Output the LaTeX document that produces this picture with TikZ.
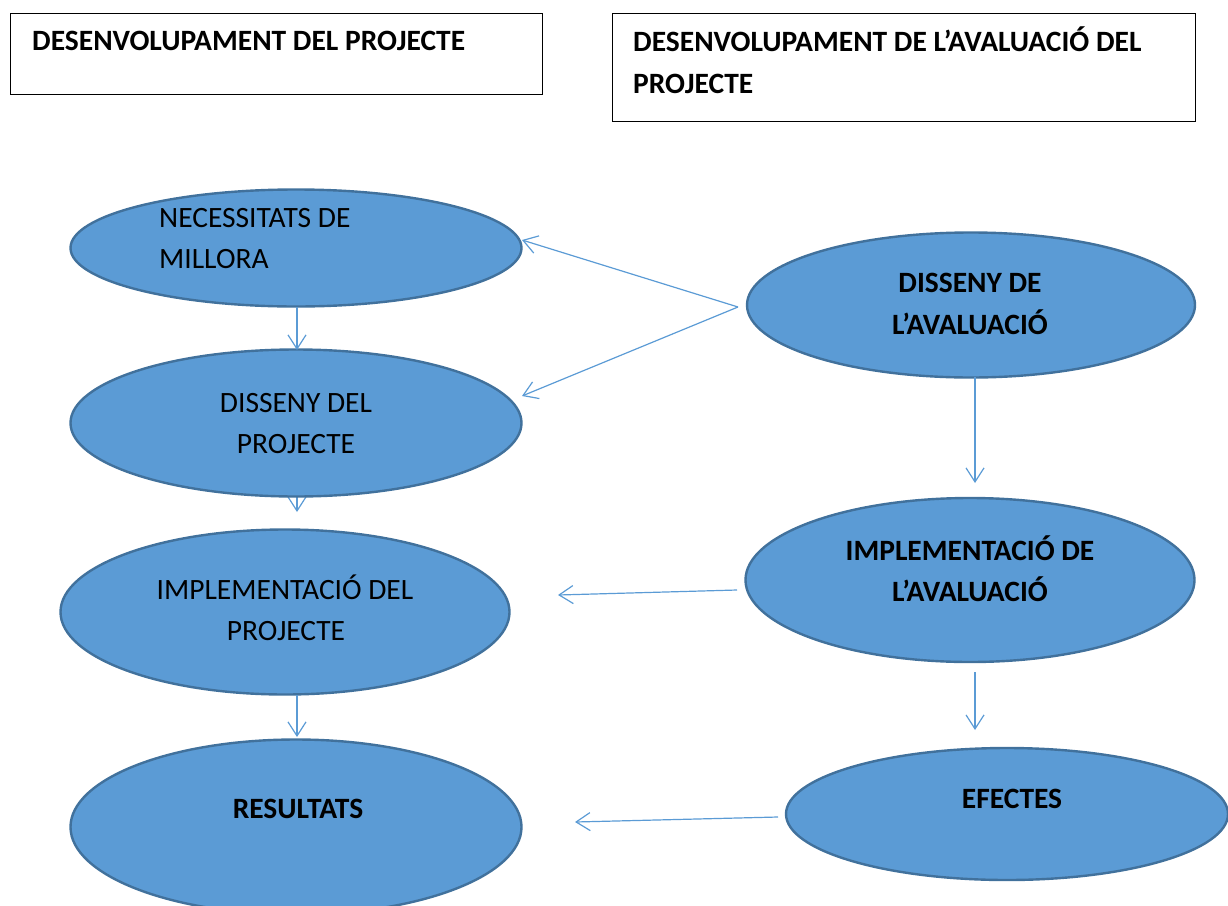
\documentclass[tikz,border=0pt]{standalone}
\usepackage{fontspec}
\setmainfont{Carlito}
\usetikzlibrary{shapes.geometric,arrows.meta,backgrounds}
\definecolor{fillblue}{HTML}{5B9BD5}
\definecolor{edgeblue}{HTML}{41719C}
\definecolor{arrowblue}{HTML}{5B9BD5}
\begin{document}
\begin{tikzpicture}[x=1pt,y=-1pt,
  ell/.style={ellipse, draw=edgeblue, fill=fillblue, line width=2.4pt, inner sep=0pt},
  hbox/.style={draw=black, line width=0.9pt, inner sep=0pt, anchor=north west},
  conn/.style={draw=arrowblue, line width=1.2pt, -{Straight Barb[length=14pt,width=18pt,line width=1.2pt]}},
  txt/.style={font=\fontsize{29.5}{41}\selectfont, inner sep=0pt, anchor=base},
  btxt/.style={txt, font=\fontsize{29.5}{41}\selectfont\bfseries},
]
\useasboundingbox (0,0) rectangle (1228,905);

% header boxes
\node[hbox, minimum width=532pt, minimum height=81pt] (b1) at (10,13) {};
\node[btxt, anchor=base west] (b1t) at (32,50) {DESENVOLUPAMENT DEL PROJECTE};
\node[hbox, minimum width=583pt, minimum height=108pt] (b2) at (612,13) {};
\node[btxt, anchor=base west] (b2t1) at (633,51) {DESENVOLUPAMENT DE L’AVALUACIÓ DEL};
\node[btxt, anchor=base west] (b2t2) at (633,93) {PROJECTE};

% left column
\node[ell, minimum width=451pt, minimum height=117pt] (e1) at (296,248) {};
\node[txt, anchor=base west] (e1a) at (159,227) {NECESSITATS DE};
\node[txt, anchor=base west] (e1b) at (159,268) {MILLORA};

\node[ell, minimum width=451pt, minimum height=147pt] (e2) at (296,423) {};
\node[txt] (e2a) at (296,412) {DISSENY DEL};
\node[txt] (e2b) at (296,453) {PROJECTE};

\node[ell, minimum width=449pt, minimum height=165pt] (e3) at (285,612) {};
\node[txt] (e3a) at (285,599) {IMPLEMENTACIÓ DEL};
\node[txt] (e3b) at (286,640) {PROJECTE};

\node[ell, minimum width=451pt, minimum height=175pt] (e4) at (296,827) {};
\node[btxt] (e4a) at (298,818) {RESULTATS};

% right column
\node[ell, minimum width=448pt, minimum height=145pt] (e5) at (971,305) {};
\node[btxt] (e5a) at (970,292) {DISSENY DE};
\node[btxt] (e5b) at (970,334) {L’AVALUACIÓ};

\node[ell, minimum width=449pt, minimum height=164pt] (e6) at (970,580) {};
\node[btxt] (e6a) at (970,560) {IMPLEMENTACIÓ DE};
\node[btxt] (e6b) at (970,601) {L’AVALUACIÓ};

\node[ell, minimum width=442pt, minimum height=132pt] (e7) at (1007,814) {};
\node[btxt] (e7a) at (1012,808) {EFECTES};

% connector end points
\coordinate (s12) at (297,307);
\coordinate (t12) at (297,350);
\coordinate (p5) at (738,307);
\coordinate (t1) at (522,240);
\coordinate (t2) at (522,396);
\coordinate (s23) at (297,488);
\coordinate (t23) at (297,512);
\coordinate (s34) at (297,695);
\coordinate (t34) at (297,737);
\coordinate (s56) at (975,377);
\coordinate (t56) at (975,483);
\coordinate (s63) at (737,590);
\coordinate (t63) at (558,595);
\coordinate (s67) at (975,672);
\coordinate (t67) at (975,730);
\coordinate (s74) at (778,817);
\coordinate (t74) at (575,822);

% connectors
\begin{scope}[on background layer]
\draw[conn] (s23) -- (t23);
\end{scope}
\draw[conn] (s12) -- (t12);
\draw[conn] (s34) -- (t34);
\draw[conn] (p5) -- (t1);
\draw[conn] (p5) -- (t2);
\draw[conn] (s56) -- (t56);
\draw[conn] (s63) -- (t63);
\draw[conn] (s67) -- (t67);
\draw[conn] (s74) -- (t74);
\end{tikzpicture}
\end{document}
